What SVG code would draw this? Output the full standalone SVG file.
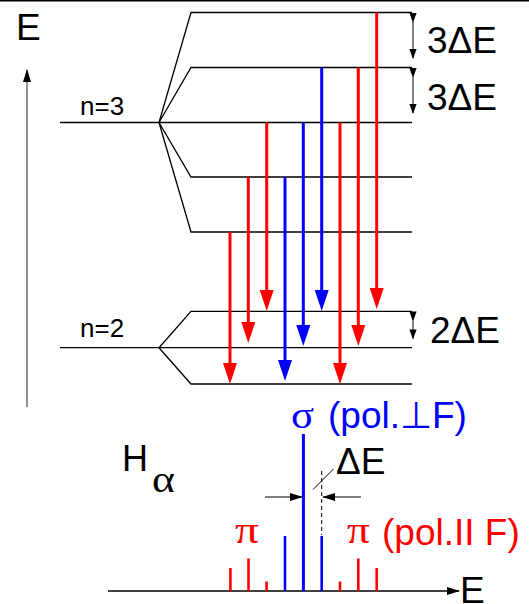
<svg xmlns="http://www.w3.org/2000/svg" width="529" height="604" viewBox="0 0 529 604">
<style>
.lvl{stroke:#000;stroke-width:1.3;fill:none}
.red{stroke:#ff0000;stroke-width:3;fill:none}
.blue{stroke:#0000ff;stroke-width:3;fill:none}
.dim{stroke:#333;stroke-width:1.2;fill:none}
.t{font-family:"Liberation Sans",Arial,sans-serif;fill:#000}
.g{font-family:"Liberation Serif","Times New Roman",serif}
</style>
<defs>
<marker id="ar" markerUnits="userSpaceOnUse" orient="auto" markerWidth="22" markerHeight="16" refX="11" refY="0" viewBox="0 -8 22 16" overflow="visible"><path d="M0,-7 L21,0 L0,7 z" fill="#ff0000"/></marker>
<marker id="ab" markerUnits="userSpaceOnUse" orient="auto" markerWidth="22" markerHeight="16" refX="11" refY="0" viewBox="0 -8 22 16" overflow="visible"><path d="M0,-7 L21,0 L0,7 z" fill="#0000ff"/></marker>
<marker id="ak" markerUnits="userSpaceOnUse" orient="auto" markerWidth="12" markerHeight="10" refX="9" refY="0" viewBox="0 -5 12 10" overflow="visible"><path d="M0,-3.6 L10,0 L0,3.6 z" fill="#000"/></marker>
<marker id="aa" markerUnits="userSpaceOnUse" orient="auto" markerWidth="14" markerHeight="10" refX="12" refY="0" viewBox="0 -5 14 10" overflow="visible"><path d="M0,-4 L13,0 L0,4 z" fill="#000"/></marker>
</defs>
<rect width="529" height="604" fill="#fff"/>
<line x1="0" y1="0.8" x2="529" y2="0.8" stroke="#000" stroke-width="1.6"/>

<g id="axis-E">
<line x1="27" y1="407" x2="27" y2="70" stroke="#555" stroke-width="1.3" marker-end="url(#aa)"/>
<text class="t" x="16" y="40" font-size="37">E</text>
</g>

<g id="level-n3">
<line class="lvl" x1="60" y1="122.5" x2="412" y2="122.5"/>
<polyline class="lvl" points="159,122.5 191,12.5 412,12.5"/>
<polyline class="lvl" points="159,122.5 191,67.5 412,67.5"/>
<polyline class="lvl" points="159,122.5 191,177 412,177"/>
<polyline class="lvl" points="159,122.5 191,232 412,232"/>
<text class="t" x="80" y="115" font-size="26">n=3</text>
</g>

<g id="level-n2">
<line class="lvl" x1="60" y1="347.7" x2="412" y2="347.7"/>
<polyline class="lvl" points="159,347.7 191,311.3 412,311.3"/>
<polyline class="lvl" points="159,347.7 191,384 412,384"/>
<text class="t" x="80" y="337" font-size="26">n=2</text>
</g>

<g id="spacing-labels">
<line class="dim" x1="413" y1="22" x2="413" y2="58" marker-start="url(#ak)" marker-end="url(#ak)"/>
<line class="dim" x1="413" y1="77" x2="413" y2="113" marker-start="url(#ak)" marker-end="url(#ak)"/>
<line class="dim" x1="413" y1="320.5" x2="413" y2="338.5" marker-start="url(#ak)" marker-end="url(#ak)"/>
<text class="t" x="427" y="53" font-size="37">3ΔE</text>
<text class="t" x="427" y="110" font-size="37">3ΔE</text>
<text class="t" x="430" y="343" font-size="37">2ΔE</text>
</g>

<g id="transitions">
<line class="red" x1="230" y1="232" x2="230" y2="374" marker-end="url(#ar)"/>
<line class="red" x1="248.3" y1="177" x2="248.3" y2="333" marker-end="url(#ar)"/>
<line class="red" x1="266.7" y1="122.5" x2="266.7" y2="301" marker-end="url(#ar)"/>
<line class="blue" x1="285" y1="177" x2="285" y2="371" marker-end="url(#ab)"/>
<line class="blue" x1="303.3" y1="122.5" x2="303.3" y2="336" marker-end="url(#ab)"/>
<line class="blue" x1="321.7" y1="67.5" x2="321.7" y2="301" marker-end="url(#ab)"/>
<line class="red" x1="340" y1="122.5" x2="340" y2="374" marker-end="url(#ar)"/>
<line class="red" x1="358.3" y1="67.5" x2="358.3" y2="336" marker-end="url(#ar)"/>
<line class="red" x1="376.7" y1="12.5" x2="376.7" y2="299" marker-end="url(#ar)"/>
</g>

<g id="spectrum">
<line x1="108" y1="591" x2="459" y2="591" stroke="#000" stroke-width="1.5" marker-end="url(#aa)"/>
<text class="t" x="460" y="603" font-size="37">E</text>
<g stroke="#ff0000" stroke-width="2.6">
<line x1="230.4" y1="568" x2="230.4" y2="591"/>
<line x1="248.5" y1="558.5" x2="248.5" y2="591"/>
<line x1="266.6" y1="581.5" x2="266.6" y2="591"/>
<line x1="340" y1="581.5" x2="340" y2="591"/>
<line x1="358.3" y1="558.5" x2="358.3" y2="591"/>
<line x1="376.7" y1="568" x2="376.7" y2="591"/>
</g>
<g stroke="#0000ff" stroke-width="2.6">
<line x1="285" y1="536" x2="285" y2="591"/>
<line x1="303.4" y1="434" x2="303.4" y2="591" stroke-width="3"/>
<line x1="321.7" y1="536" x2="321.7" y2="591"/>
</g>
<line x1="321.7" y1="471" x2="321.7" y2="535" stroke="#000" stroke-width="1" stroke-dasharray="4,3"/>
<line x1="265" y1="497" x2="302" y2="497" stroke="#000" stroke-width="1.2" marker-end="url(#aa)"/>
<line x1="361" y1="497" x2="323" y2="497" stroke="#000" stroke-width="1.2" marker-end="url(#aa)"/>
<line x1="313" y1="489.5" x2="333.5" y2="469" stroke="#000" stroke-width="1"/>
<text class="t" x="336" y="474" font-size="37">ΔE</text>
<text class="t" x="122" y="471" font-size="36">H</text>
<text class="g" x="152" y="492" font-size="38" textLength="23" lengthAdjust="spacingAndGlyphs">α</text>
<text class="g" x="291" y="428" font-size="38" textLength="23" lengthAdjust="spacingAndGlyphs" style="fill:#0000ff">σ</text>
<text class="t" x="328" y="428" font-size="37" style="fill:#0000ff">(pol.⊥F)</text>
<text class="g" x="235" y="543" font-size="38" textLength="24" lengthAdjust="spacingAndGlyphs" style="fill:#ff0000">π</text>
<text class="g" x="347" y="543" font-size="38" textLength="23" lengthAdjust="spacingAndGlyphs" style="fill:#ff0000">π</text>
<text class="t" x="382" y="545" font-size="37" style="fill:#ff0000">(pol.II F)</text>
</g>
</svg>
